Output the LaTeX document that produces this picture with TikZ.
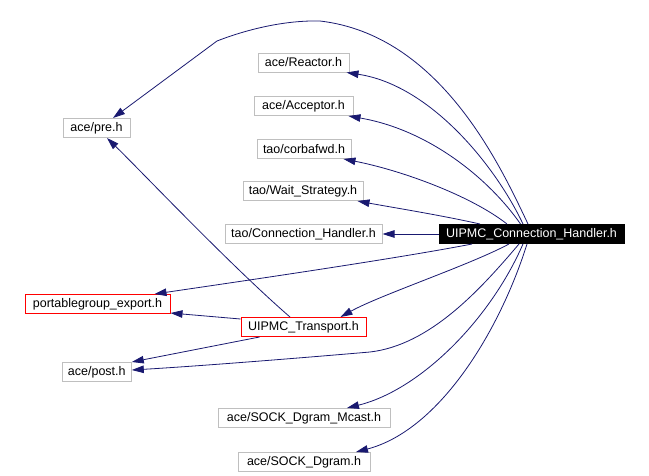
\documentclass[tikz,border=0pt]{standalone}
\usepackage{fontspec}
\setmainfont{Liberation Sans}
\usetikzlibrary{arrows.meta,calc}
\definecolor{edgec}{HTML}{191970}
\definecolor{boxgray}{HTML}{BFBFBF}
\begin{document}
\begin{tikzpicture}[x=1pt,y=-1pt,
  hdr/.style={draw=boxgray, line width=1pt, inner xsep=2pt, inner ysep=0pt, minimum height=19pt, font=\fontsize{12.5}{14}\selectfont, anchor=center},
  redbox/.style={hdr, draw=red},
  mainbox/.style={hdr, fill=black, draw=black, text=white},
  edge/.style={draw=edgec, line width=0.8pt, -{Triangle[length=12pt,width=7.5pt]}}
]
\useasboundingbox (0,0) rectangle (649,475);
\node[hdr, minimum width=67pt] (pre) at (96.5,128) {ace/pre.h};
\node[hdr, minimum width=91pt] (reactor) at (303.5,62.5) {ace/Reactor.h};
\node[hdr, minimum width=99pt] (acceptor) at (303.5,106) {ace/Acceptor.h};
\node[hdr, minimum width=94pt] (corbafwd) at (304,149) {tao/corbafwd.h};
\node[hdr, minimum width=120pt] (wait) at (303,191) {tao/Wait\_Strategy.h};
\node[hdr, minimum width=157pt] (connh) at (303.5,234) {tao/Connection\_Handler.h};
\node[mainbox, minimum width=185pt] (ch) at (531.5,234) {UIPMC\_Connection\_Handler.h};
\node[redbox, minimum width=145pt] (pg) at (97.5,304) {portablegroup\_export.h};
\node[redbox, minimum width=125pt] (transport) at (303.5,327) {UIPMC\_Transport.h};
\node[hdr, minimum width=69pt] (post) at (96.8,372) {ace/post.h};
\node[hdr, minimum width=172pt] (mcast) at (304,418) {ace/SOCK\_Dgram\_Mcast.h};
\node[hdr, minimum width=132pt] (dgram) at (304,462) {ace/SOCK\_Dgram.h};

\draw[edge] ($(ch.north)+(-3.5,0)$) .. controls (500,165) and (440,35) .. (320,21) .. controls (280,20) and (240,32) .. (217,41) -- ($(pre.north)+(16.5,0)$);
\draw[edge] ($(ch.north)+(-8.5,0)$) .. controls (495,165) and (430,85) .. ($(reactor.south east)+(-3,0)$);
\draw[edge] ($(ch.north)+(-11,0)$) .. controls (490,180) and (430,130) .. ($(acceptor.south east)+(-5,0)$);
\draw[edge] ($(ch.north)+(-24.5,0)$) .. controls (470,195) and (400,170) .. ($(corbafwd.south east)+(-8,0)$);
\draw[edge] ($(ch.north)+(-51.5,0)$) .. controls (440,215) and (390,207) .. ($(wait.south east)+(-6,0)$);
\draw[edge] (ch.west) -- (connh.east);
\draw[edge] ($(ch.south)+(-59.5,0)$) .. controls (400,258) and (250,280) .. ($(pg.north east)+(-16,0)$);
\draw[edge] ($(ch.south)+(-22.5,0)$) .. controls (470,265) and (380,295) .. ($(transport.north east)+(-26,0)$);
\draw[edge] ($(ch.south)+(-12.5,0)$) .. controls (480,290) and (430,345) .. (370,352) .. controls (300,358) and (200,366) .. ($(post.east)+(0,-2)$);
\draw[edge] ($(ch.south)+(-8.5,0)$) .. controls (490,320) and (420,390) .. ($(mcast.north)+(43,0)$);
\draw[edge] ($(ch.south)+(-4.5,0)$) .. controls (500,330) and (440,430) .. ($(dgram.north)+(52,0)$);
\draw[edge] ($(transport.north)+(-13.5,0)$) .. controls (230,265) and (140,170) .. ($(pre.south)+(10.5,0)$);
\draw[edge] ($(transport.north west)+(0,2)$) -- ($(pg.south east)+(0,-1)$);
\draw[edge] ($(transport.south west)+(19,0)$) -- (post.north east);
\end{tikzpicture}
\end{document}
